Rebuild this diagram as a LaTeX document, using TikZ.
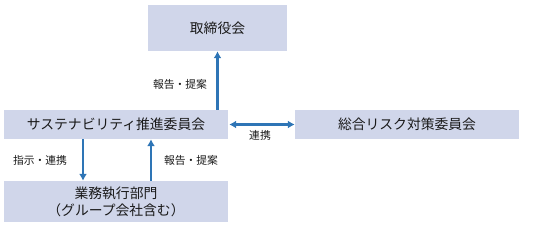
\documentclass[tikz,border=0pt]{standalone}
\usepackage{fontspec}
\setmainfont{Noto Sans CJK JP}
\usetikzlibrary{arrows.meta,positioning}
\definecolor{boxfill}{HTML}{D0D6EA}
\definecolor{arrowblue}{HTML}{2E75B6}

\begin{document}
\begin{tikzpicture}[x=1pt,y=-1pt,
  body/.style={fill=boxfill,text=black!90,font=\fontsize{13.8}{17}\selectfont,inner sep=0pt,align=center},
  note/.style={text=black!90,font=\fontsize{10.8}{12}\selectfont,inner sep=0pt},
  arrow/.style={-{Latex[length=7pt,width=8pt]},line width=2.2pt,arrowblue}
]
  \useasboundingbox (0,0) rectangle (538,226);
  \node[body,minimum width=139pt,minimum height=46pt] (board) at (217.5,28) {取締役会};
  \node[body,minimum width=224pt,minimum height=29pt] (sust) at (116,124.5) {サステナビリティ推進委員会};
  \node[body,minimum width=224pt,minimum height=29pt] (risk) at (407,124.5) {総合リスク対策委員会};
  \node[body,minimum width=224pt,minimum height=41pt] (exec) at (116,201.5) {業務執行部門\\（グループ会社含む）};

  \draw[arrow] (sust.north -| board) -- (board.south);
  \draw[arrow,{Latex[length=7pt,width=8pt]}-{Latex[length=7pt,width=8pt]}] ([xshift=1pt]sust.east) -- (risk.west);
  \draw[arrow] ([xshift=-33pt]sust.south) -- ([xshift=-33pt]exec.north);
  \draw[arrow] ([xshift=35pt]exec.north) -- ([xshift=35pt]sust.south);

  \node[note] (report1) at (180,84) {報告・提案};
  \node[note] (link) at (260,135) {連携};
  \node[note] (order) at (40,160) {指示・連携};
  \node[note] (report2) at (191,160) {報告・提案};
\end{tikzpicture}
\end{document}
